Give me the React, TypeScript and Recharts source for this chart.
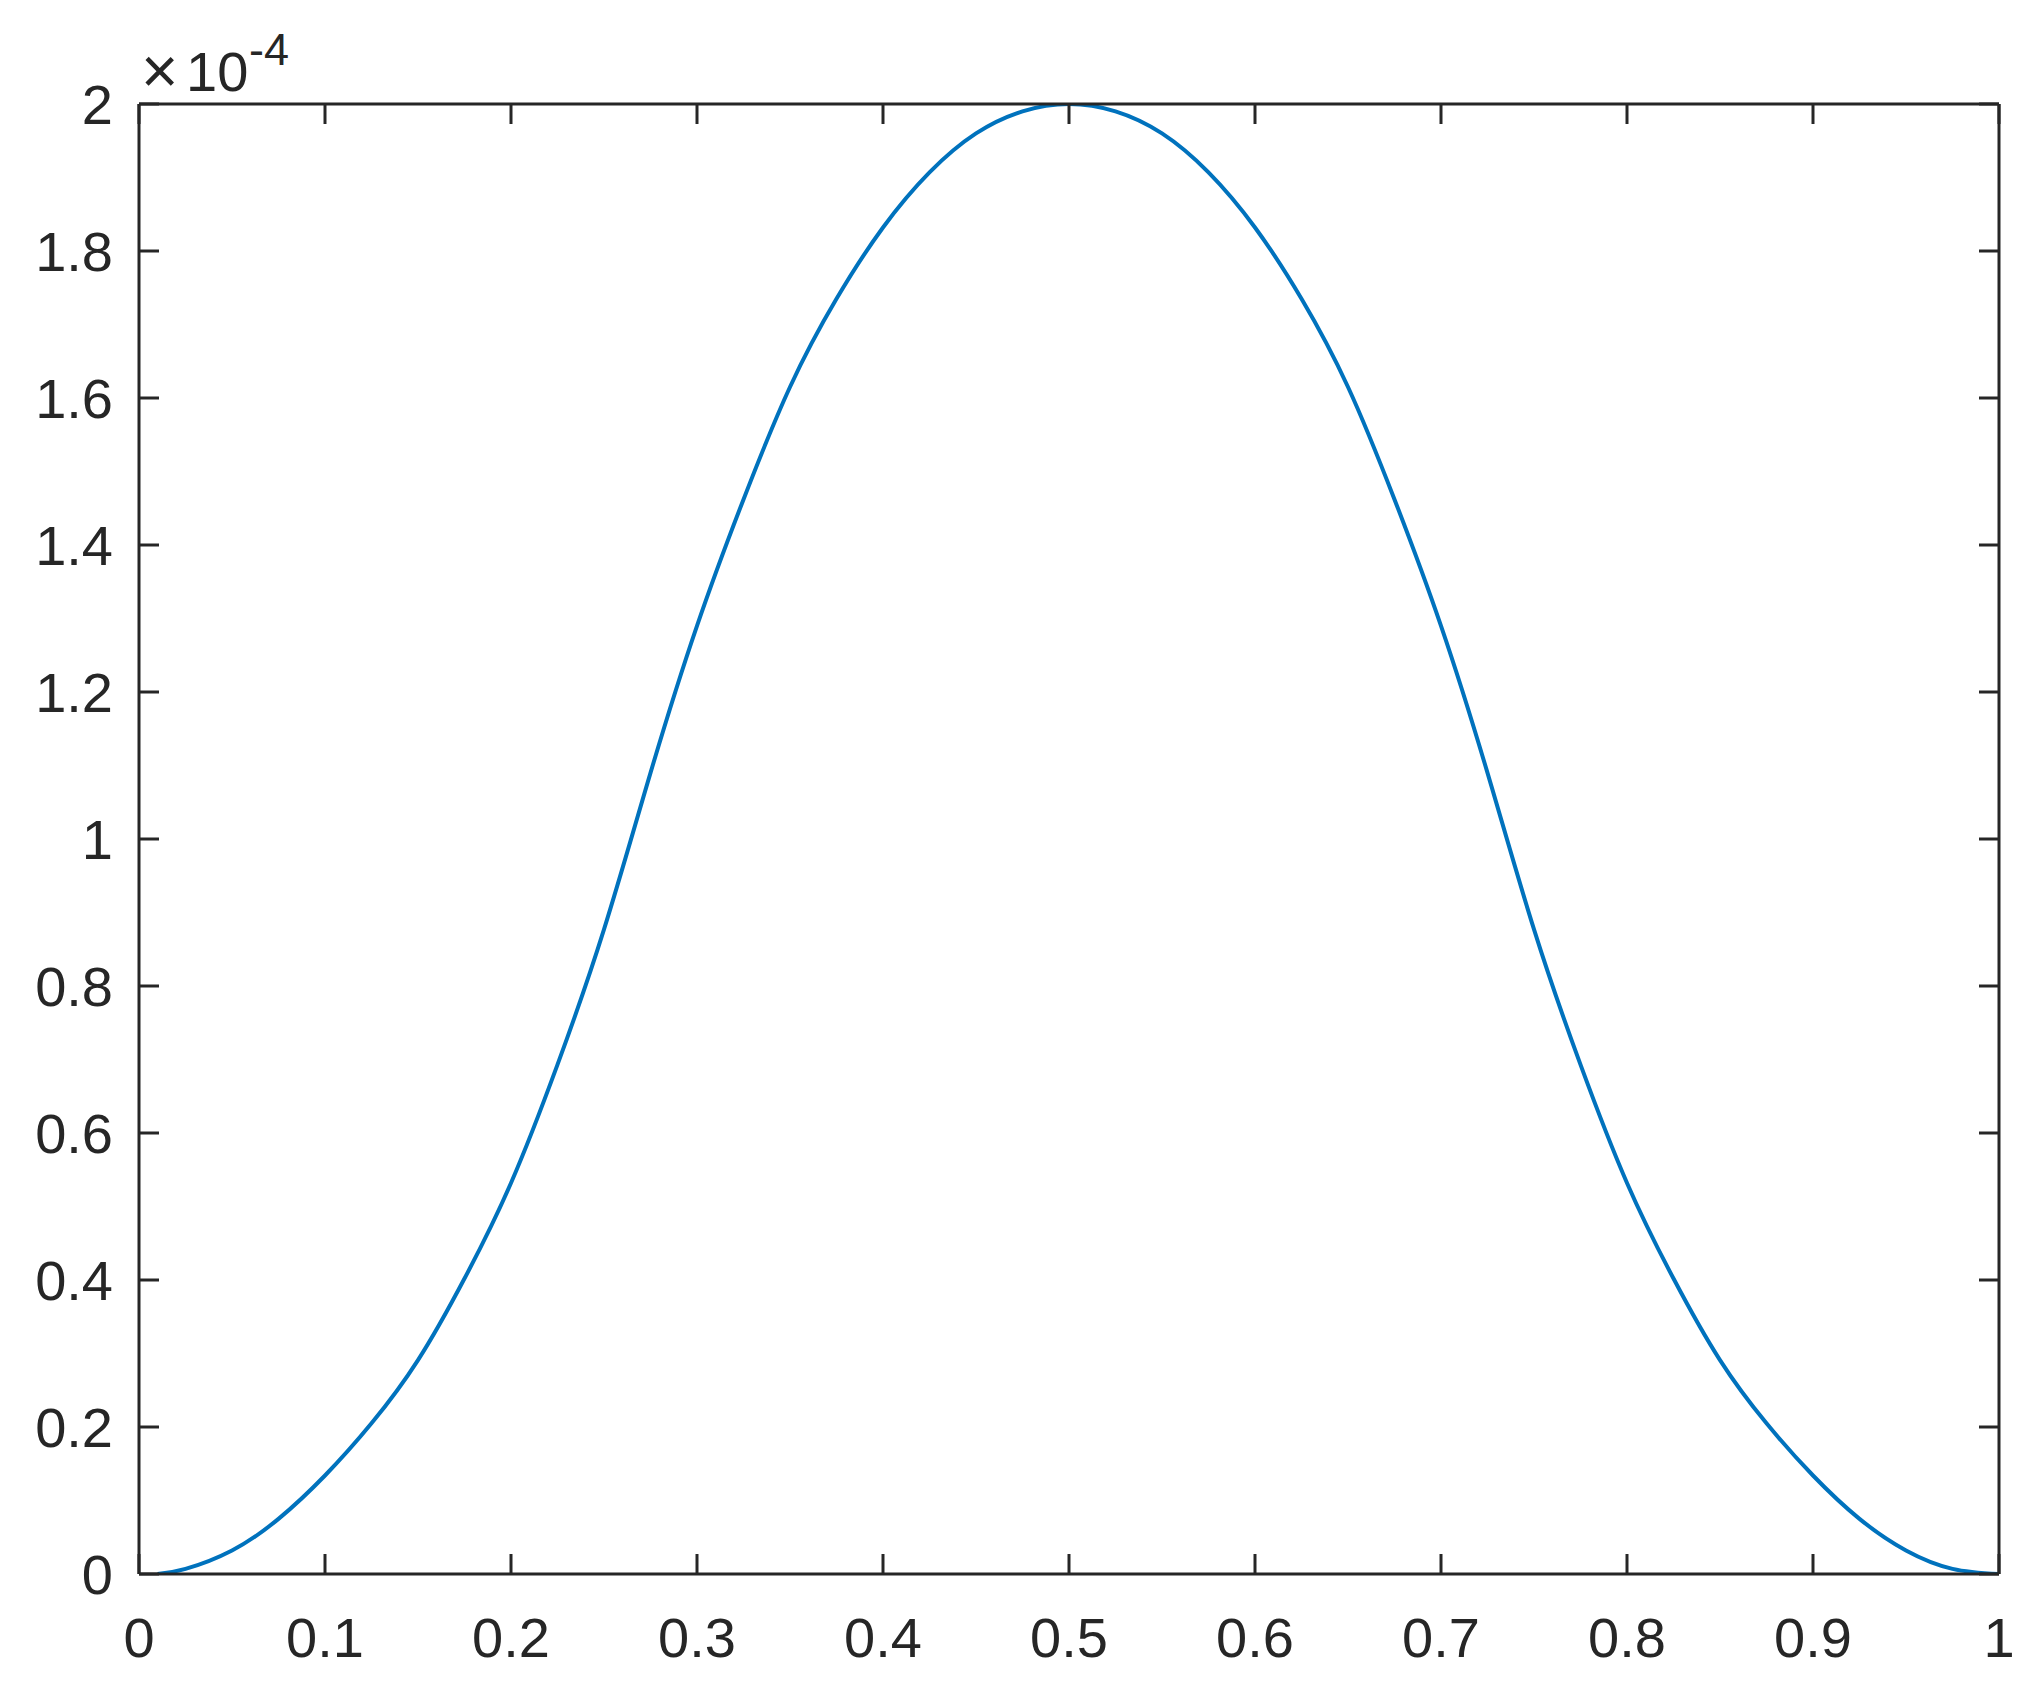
import { LineChart, Line, XAxis, YAxis } from "recharts";

// values, y in units of 1e-4
const xs = [
  0.01, 0.025, 0.05, 0.075, 0.1, 0.125, 0.15, 0.175, 0.2, 0.225, 0.25, 0.275, 0.3, 0.325, 0.35, 0.375, 0.4, 0.425, 0.45, 0.475,
  0.5, 0.525, 0.55, 0.575, 0.6, 0.625, 0.65, 0.675, 0.7, 0.725, 0.75, 0.775, 0.8, 0.825, 0.85, 0.875, 0.9, 0.925, 0.95, 0.975, 1.0,
];
const ys = [
  0.0, 0.007, 0.032, 0.075, 0.134, 0.205, 0.291, 0.402, 0.532, 0.693, 0.877, 1.09, 1.29, 1.462, 1.615, 1.735, 1.832, 1.907, 1.96, 1.99,
  2.0, 1.99, 1.96, 1.907, 1.832, 1.735, 1.615, 1.462, 1.29, 1.09, 0.877, 0.693, 0.532, 0.402, 0.291, 0.205, 0.134, 0.075, 0.032, 0.007, 0.0,
];
const xTicks = [0, 0.1, 0.2, 0.3, 0.4, 0.5, 0.6, 0.7, 0.8, 0.9, 1];
const yTicks = [0, 0.2, 0.4, 0.6, 0.8, 1, 1.2, 1.4, 1.6, 1.8, 2];

const data = xs.map((x, i) => ({ x, y: ys[i] }));

const ink = "#262626";
const font = "'Liberation Sans', Arial, Helvetica, sans-serif";
const axisStroke = { stroke: ink, strokeWidth: 3 };
const blank = () => "";

export default function App() {
  return (
    <div style={{ position: "absolute", left: 0, top: 0, width: 2031, height: 1686, background: "#fff" }}>
      <LineChart width={2031} height={1686} data={data} margin={{ top: 103, right: 31, bottom: 0, left: 0 }}>
        <XAxis
          xAxisId="b"
          type="number"
          dataKey="x"
          domain={[0, 1]}
          ticks={xTicks}
          tickFormatter={(v: number) => String(v)}
          height={112}
          tickSize={-20}
          tickMargin={63}
          axisLine={axisStroke}
          tickLine={axisStroke}
          tick={{ fill: ink, fontSize: 56, fontFamily: font }}
          allowDataOverflow
        />
        <XAxis
          xAxisId="t"
          orientation="top"
          type="number"
          dataKey="x"
          domain={[0, 1]}
          ticks={xTicks}
          height={1}
          tickSize={-20}
          axisLine={axisStroke}
          tickLine={axisStroke}
          tickFormatter={blank}
          tick={{ fontSize: 1 }}
          allowDataOverflow
        />
        <YAxis
          yAxisId="l"
          type="number"
          dataKey="y"
          domain={[0, 2]}
          ticks={yTicks}
          tickFormatter={(v: number) => String(v)}
          width={139}
          tickSize={-20}
          tickMargin={46}
          axisLine={axisStroke}
          tickLine={axisStroke}
          tick={{ fill: ink, fontSize: 56, fontFamily: font }}
          allowDataOverflow
        />
        <YAxis
          yAxisId="r"
          orientation="right"
          type="number"
          dataKey="y"
          domain={[0, 2]}
          ticks={yTicks}
          width={1}
          tickSize={-20}
          axisLine={axisStroke}
          tickLine={axisStroke}
          tickFormatter={blank}
          tick={{ fontSize: 1 }}
          allowDataOverflow
        />
        <Line
          xAxisId="b"
          yAxisId="l"
          type="natural"
          dataKey="y"
          stroke="#0072BD"
          strokeWidth={4}
          dot={false}
          isAnimationActive={false}
        />
      </LineChart>
      <svg width={400} height={110} style={{ position: "absolute", left: 0, top: 0 }}>
        <text x={141} y={93} fontSize={64} fontFamily={font} fill={ink}>×</text>
        <text x={186} y={91} fontSize={56} fontFamily={font} fill={ink}>10</text>
        <text x={249} y={65} fontSize={45} fontFamily={font} fill={ink}>-4</text>
      </svg>
    </div>
  );
}
